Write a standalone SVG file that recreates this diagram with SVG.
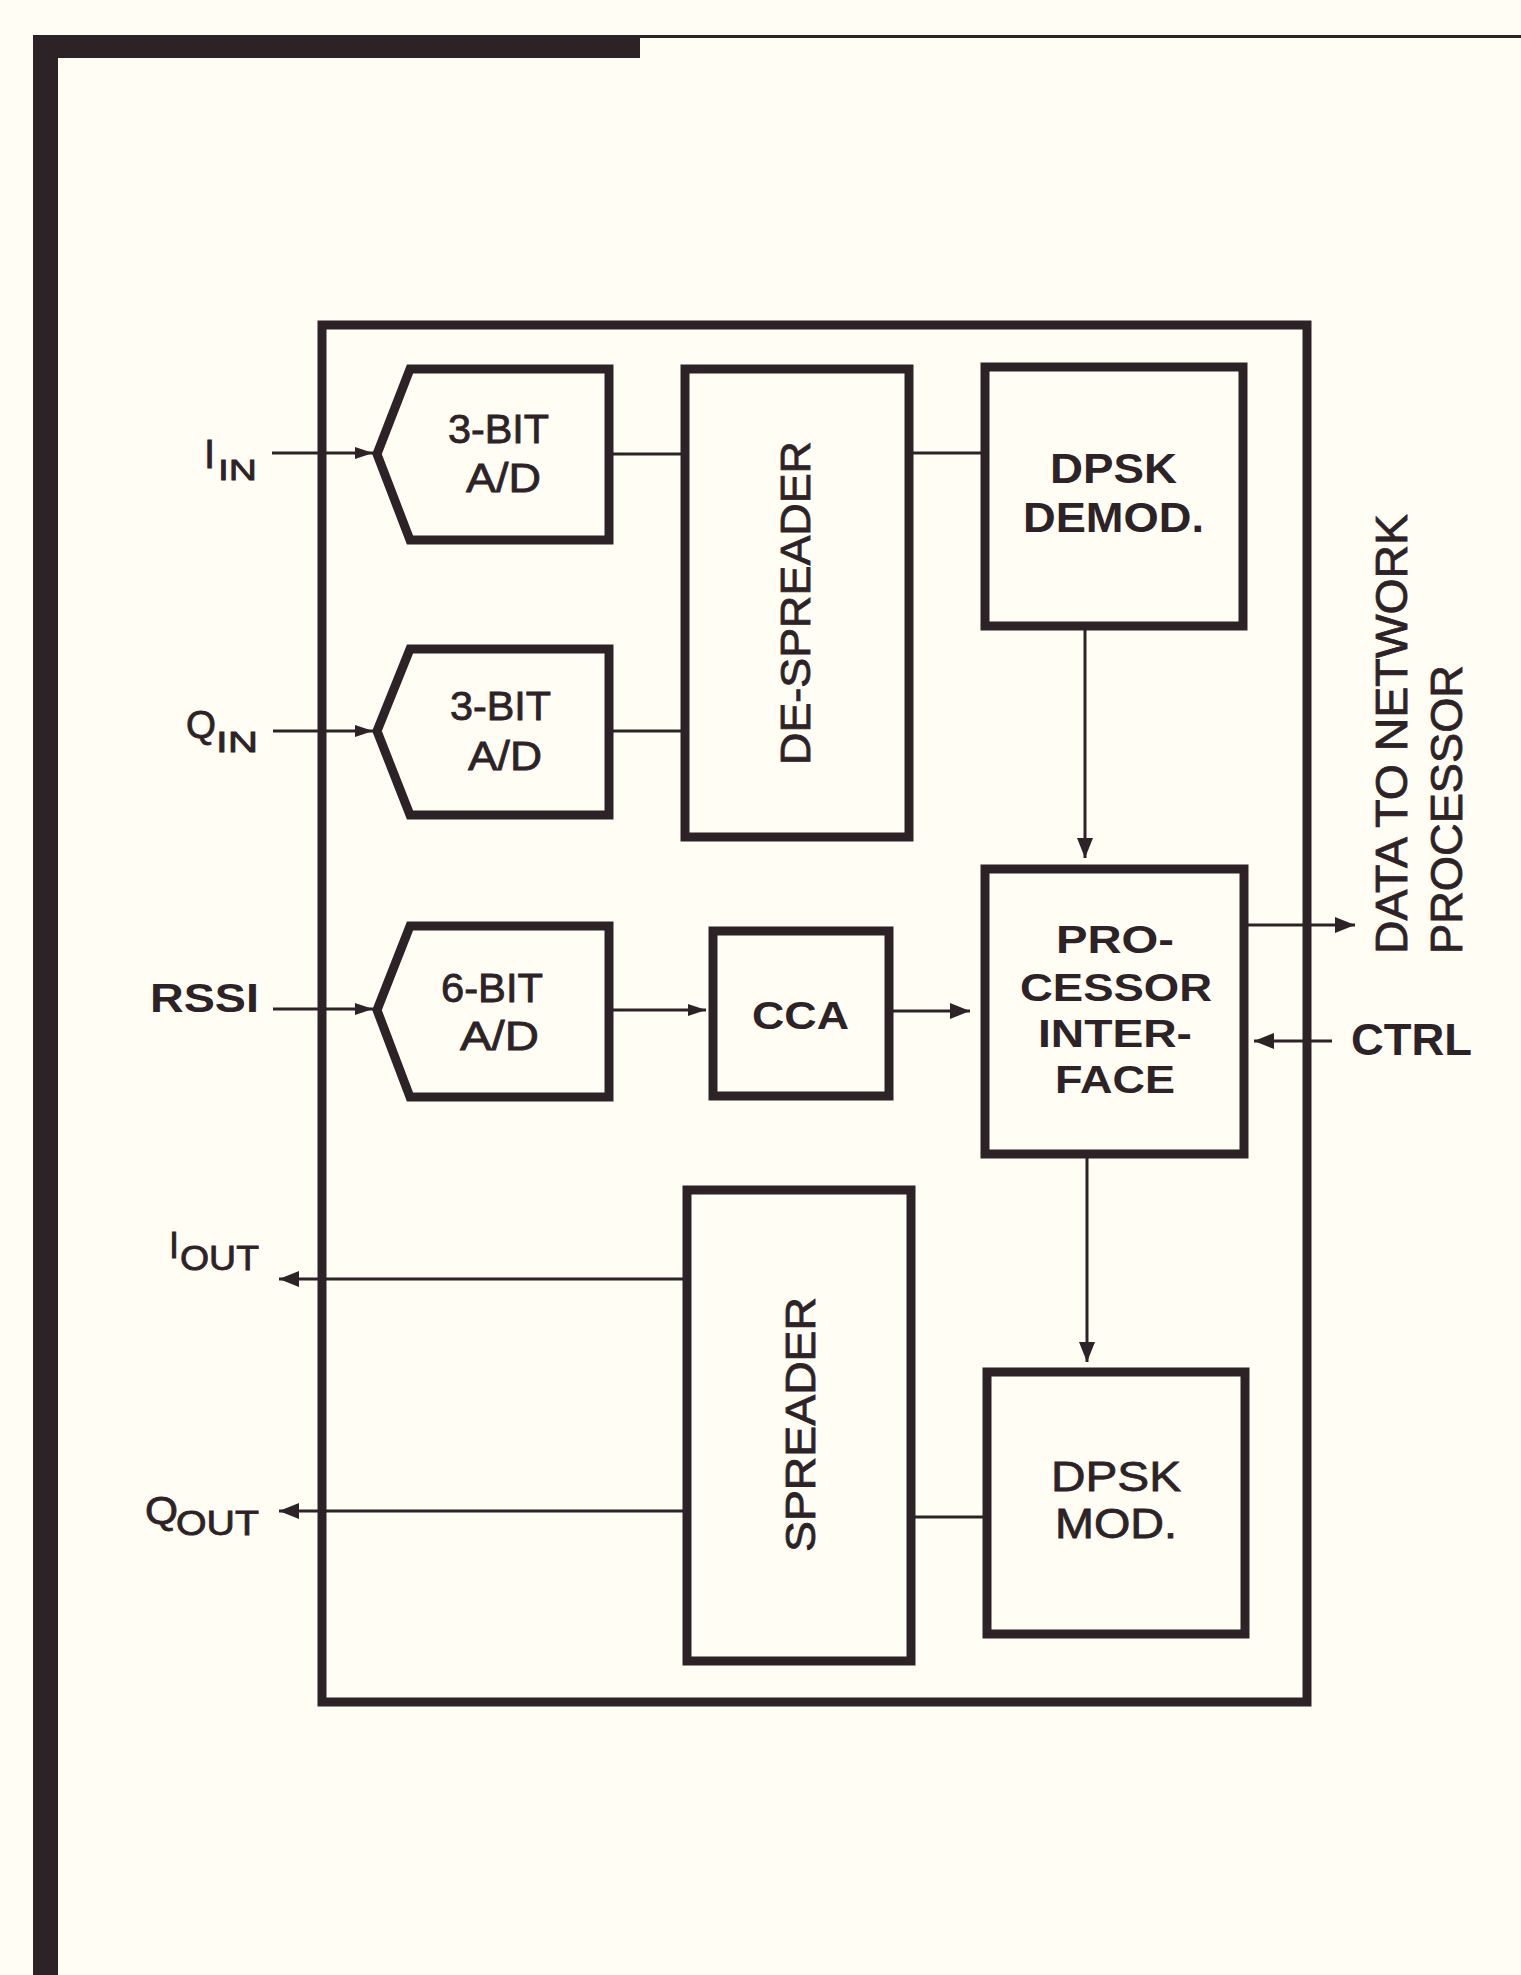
<svg xmlns="http://www.w3.org/2000/svg" width="1521" height="1975" viewBox="0 0 1521 1975">
<defs>
<style>
.blk{fill:none;stroke:#2d2326;stroke-width:9;stroke-linejoin:miter}
.ln{fill:none;stroke:#2d2326;stroke-width:3}
.t{font-family:"Liberation Sans",Arial,Helvetica,sans-serif;fill:#2d2326}
.m{stroke:#2d2326;stroke-width:0.8}
.b{font-weight:bold}
</style>
<marker id="ah" markerUnits="userSpaceOnUse" markerWidth="20" markerHeight="16" refX="20" refY="8" orient="auto">
<path d="M0,0 L20,8 L0,16 Z" fill="#2d2326"/>
</marker>
<marker id="ahs" markerUnits="userSpaceOnUse" markerWidth="18" markerHeight="12" refX="18" refY="6" orient="auto">
<path d="M0,0 L18,6 L0,12 Z" fill="#2d2326"/>
</marker>
</defs>
<rect x="0" y="0" width="1521" height="1975" fill="#fffdf4"/>
<g id="frame">
<rect x="33" y="35" width="607" height="23" fill="#2d2326"/>
<rect x="33" y="35" width="25" height="1940" fill="#2d2326"/>
<rect x="640" y="35" width="881" height="3" fill="#2d2326"/>
</g>
<g id="chip">
<rect class="blk" x="322" y="325" width="985" height="1377"/>
</g>
<g id="connectors">
<line class="ln" x1="272" y1="453" x2="373" y2="453" marker-end="url(#ahs)"/>
<line class="ln" x1="273" y1="731" x2="373" y2="731" marker-end="url(#ahs)"/>
<line class="ln" x1="273" y1="1009" x2="373" y2="1009" marker-end="url(#ahs)"/>
<line class="ln" x1="613" y1="454" x2="681" y2="454"/>
<line class="ln" x1="613" y1="731" x2="681" y2="731"/>
<line class="ln" x1="913" y1="453" x2="981" y2="453"/>
<line class="ln" x1="613" y1="1010" x2="706" y2="1010" marker-end="url(#ahs)"/>
<line class="ln" x1="893" y1="1011" x2="970" y2="1011" marker-end="url(#ah)"/>
<line class="ln" x1="1085" y1="630" x2="1085" y2="858" marker-end="url(#ah)"/>
<line class="ln" x1="1248" y1="925" x2="1355" y2="925" marker-end="url(#ah)"/>
<line class="ln" x1="1332" y1="1041" x2="1254" y2="1041" marker-end="url(#ah)"/>
<line class="ln" x1="1087" y1="1158" x2="1087" y2="1362" marker-end="url(#ah)"/>
<line class="ln" x1="683" y1="1279" x2="279" y2="1279" marker-end="url(#ah)"/>
<line class="ln" x1="683" y1="1511" x2="279" y2="1511" marker-end="url(#ah)"/>
<line class="ln" x1="983" y1="1517" x2="915" y2="1517"/>
</g>
<g id="ad1">
<polygon class="blk" points="410,369 609,369 609,540 410,540 377,454"/>
<text class="t m" x="448" y="443" font-size="40" textLength="101" lengthAdjust="spacingAndGlyphs">3-BIT</text>
<text class="t m" x="466" y="492" font-size="40" textLength="75" lengthAdjust="spacingAndGlyphs">A/D</text>
</g>
<g id="ad2">
<polygon class="blk" points="410,649 609,649 609,815 410,815 377,731"/>
<text class="t m" x="450" y="720" font-size="40" textLength="101" lengthAdjust="spacingAndGlyphs">3-BIT</text>
<text class="t m" x="468" y="770" font-size="40" textLength="74" lengthAdjust="spacingAndGlyphs">A/D</text>
</g>
<g id="ad3">
<polygon class="blk" points="410,926 609,926 609,1097 410,1097 377,1010"/>
<text class="t m" x="441" y="1002" font-size="40" textLength="102" lengthAdjust="spacingAndGlyphs">6-BIT</text>
<text class="t m" x="460" y="1050" font-size="40" textLength="79" lengthAdjust="spacingAndGlyphs">A/D</text>
</g>
<g id="despreader">
<rect class="blk" x="685" y="369" width="224" height="468"/>
<text class="t m" transform="translate(810,765) rotate(-90)" x="0" y="0" font-size="42" textLength="324" lengthAdjust="spacingAndGlyphs">DE-SPREADER</text>
</g>
<g id="demod">
<rect class="blk" x="985" y="367" width="258" height="259"/>
<text class="t b" x="1050" y="483" font-size="42" textLength="127" lengthAdjust="spacingAndGlyphs">DPSK</text>
<text class="t b" x="1023" y="532" font-size="42" textLength="181" lengthAdjust="spacingAndGlyphs">DEMOD.</text>
</g>
<g id="cca">
<rect class="blk" x="713" y="931" width="176" height="165"/>
<text class="t b" x="752" y="1029" font-size="39" textLength="97" lengthAdjust="spacingAndGlyphs">CCA</text>
</g>
<g id="procif">
<rect class="blk" x="985" y="869" width="259" height="285"/>
<text class="t b" x="1056" y="953" font-size="39" textLength="118" lengthAdjust="spacingAndGlyphs">PRO-</text>
<text class="t b" x="1020" y="1001" font-size="39" textLength="192" lengthAdjust="spacingAndGlyphs">CESSOR</text>
<text class="t b" x="1038" y="1047" font-size="39" textLength="154" lengthAdjust="spacingAndGlyphs">INTER-</text>
<text class="t b" x="1055" y="1093" font-size="39" textLength="120" lengthAdjust="spacingAndGlyphs">FACE</text>
</g>
<g id="spreader">
<rect class="blk" x="687" y="1190" width="224" height="471"/>
<text class="t m" transform="translate(815,1552) rotate(-90)" x="0" y="0" font-size="42" textLength="255" lengthAdjust="spacingAndGlyphs">SPREADER</text>
</g>
<g id="mod">
<rect class="blk" x="987" y="1372" width="258" height="262"/>
<text class="t m" x="1051" y="1491" font-size="42" textLength="130" lengthAdjust="spacingAndGlyphs">DPSK</text>
<text class="t m" x="1055" y="1538" font-size="42" textLength="122" lengthAdjust="spacingAndGlyphs">MOD.</text>
</g>
<g id="labels">
<text class="t m" x="204" y="468" font-size="40">I</text>
<text class="t m" x="218" y="480" font-size="30" textLength="39" lengthAdjust="spacingAndGlyphs">IN</text>
<text class="t m" x="186" y="738" font-size="39" textLength="30" lengthAdjust="spacingAndGlyphs">Q</text>
<text class="t m" x="216" y="752" font-size="30" textLength="42" lengthAdjust="spacingAndGlyphs">IN</text>
<text class="t b" x="150" y="1012" font-size="41" textLength="109" lengthAdjust="spacingAndGlyphs">RSSI</text>
<text class="t m" x="169" y="1258" font-size="36">I</text>
<text class="t m" x="180" y="1270" font-size="35" textLength="79" lengthAdjust="spacingAndGlyphs">OUT</text>
<text class="t m" x="145" y="1524" font-size="38" textLength="33" lengthAdjust="spacingAndGlyphs">Q</text>
<text class="t m" x="176" y="1535" font-size="35" textLength="83" lengthAdjust="spacingAndGlyphs">OUT</text>
<text class="t b" x="1351" y="1055" font-size="44" textLength="121" lengthAdjust="spacingAndGlyphs">CTRL</text>
<text class="t m" transform="translate(1407,954) rotate(-90)" x="0" y="0" font-size="44" textLength="440" lengthAdjust="spacingAndGlyphs">DATA TO NETWORK</text>
<text class="t m" transform="translate(1462,954) rotate(-90)" x="0" y="0" font-size="44" textLength="289" lengthAdjust="spacingAndGlyphs">PROCESSOR</text>
</g>
</svg>
